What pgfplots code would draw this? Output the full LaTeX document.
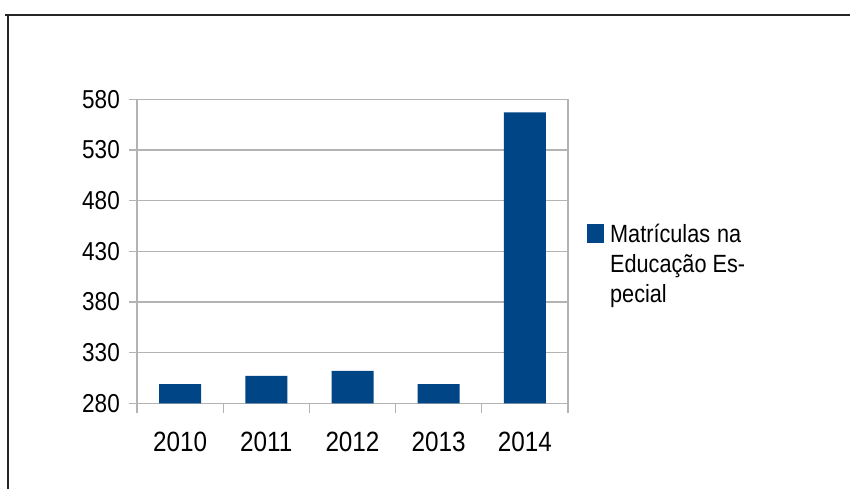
\documentclass[border=0pt]{standalone}
\usepackage{pgfplots}
\pgfplotsset{compat=1.18}
\usepackage{fontspec}
\setmainfont{Liberation Sans}[FakeStretch=0.87]
\definecolor{barblue}{HTML}{004586}
\definecolor{gridgray}{HTML}{B3B3B3}
\begin{document}
\begin{tikzpicture}
\path[use as bounding box] (0,0) rectangle (850bp,489bp);
\begin{axis}[
  at={(137bp,85.7bp)}, anchor=south west,
  scale only axis, width=431bp, height=304bp,
  xmin=-0.5, xmax=4.5, ymin=280, ymax=580,
  ytick={280,330,...,580},
  xtick={0,1,2,3,4},
  xticklabels={2010,2011,2012,2013,2014},
  minor xtick={-0.5,0.5,1.5,2.5,3.5,4.5},
  tick pos=left,
  tick align=outside,
  major tick length=8bp, minor tick length=10bp,
  major x tick style={draw=none},
  every tick/.style={gridgray, line width=1.2bp},
  ymajorgrids, grid style={gridgray, line width=1.2bp},
  axis line style={gridgray, line width=1.2bp},
  /pgf/number format/assume math mode=true,
  /pgf/number format/1000 sep={},
  yticklabel style={font=\fontsize{26}{30}\selectfont, inner sep=0pt, xshift=-9bp},
  xticklabel style={font=\fontsize{28}{32}\selectfont, inner sep=0pt, yshift=-21bp},
  ybar, bar width=42bp, bar shift=0pt,
  legend style={draw=none, fill=none, inner sep=0pt, column sep=4bp,
    at={(1.0441,0.458)}, anchor=west,
    font=\fontsize{25}{30}\selectfont,
    nodes={align=left}},
  legend cell align=left,
  legend image code/.code={\fill[barblue] (0bp,21bp) rectangle (17bp,40bp);},
]
\addplot[fill=barblue, draw=none] coordinates {(0,299) (1,307) (2,312) (3,299) (4,567)};
\addlegendentry{Matrículas\hspace{7bp}na\\Educação Es-\\pecial}
\end{axis}
\draw[line width=2bp, black!85] (5bp,474bp) -- (850bp,474bp);
\draw[line width=2bp, black!85] (8bp,474bp) -- (8bp,0bp);
\end{tikzpicture}
\end{document}
